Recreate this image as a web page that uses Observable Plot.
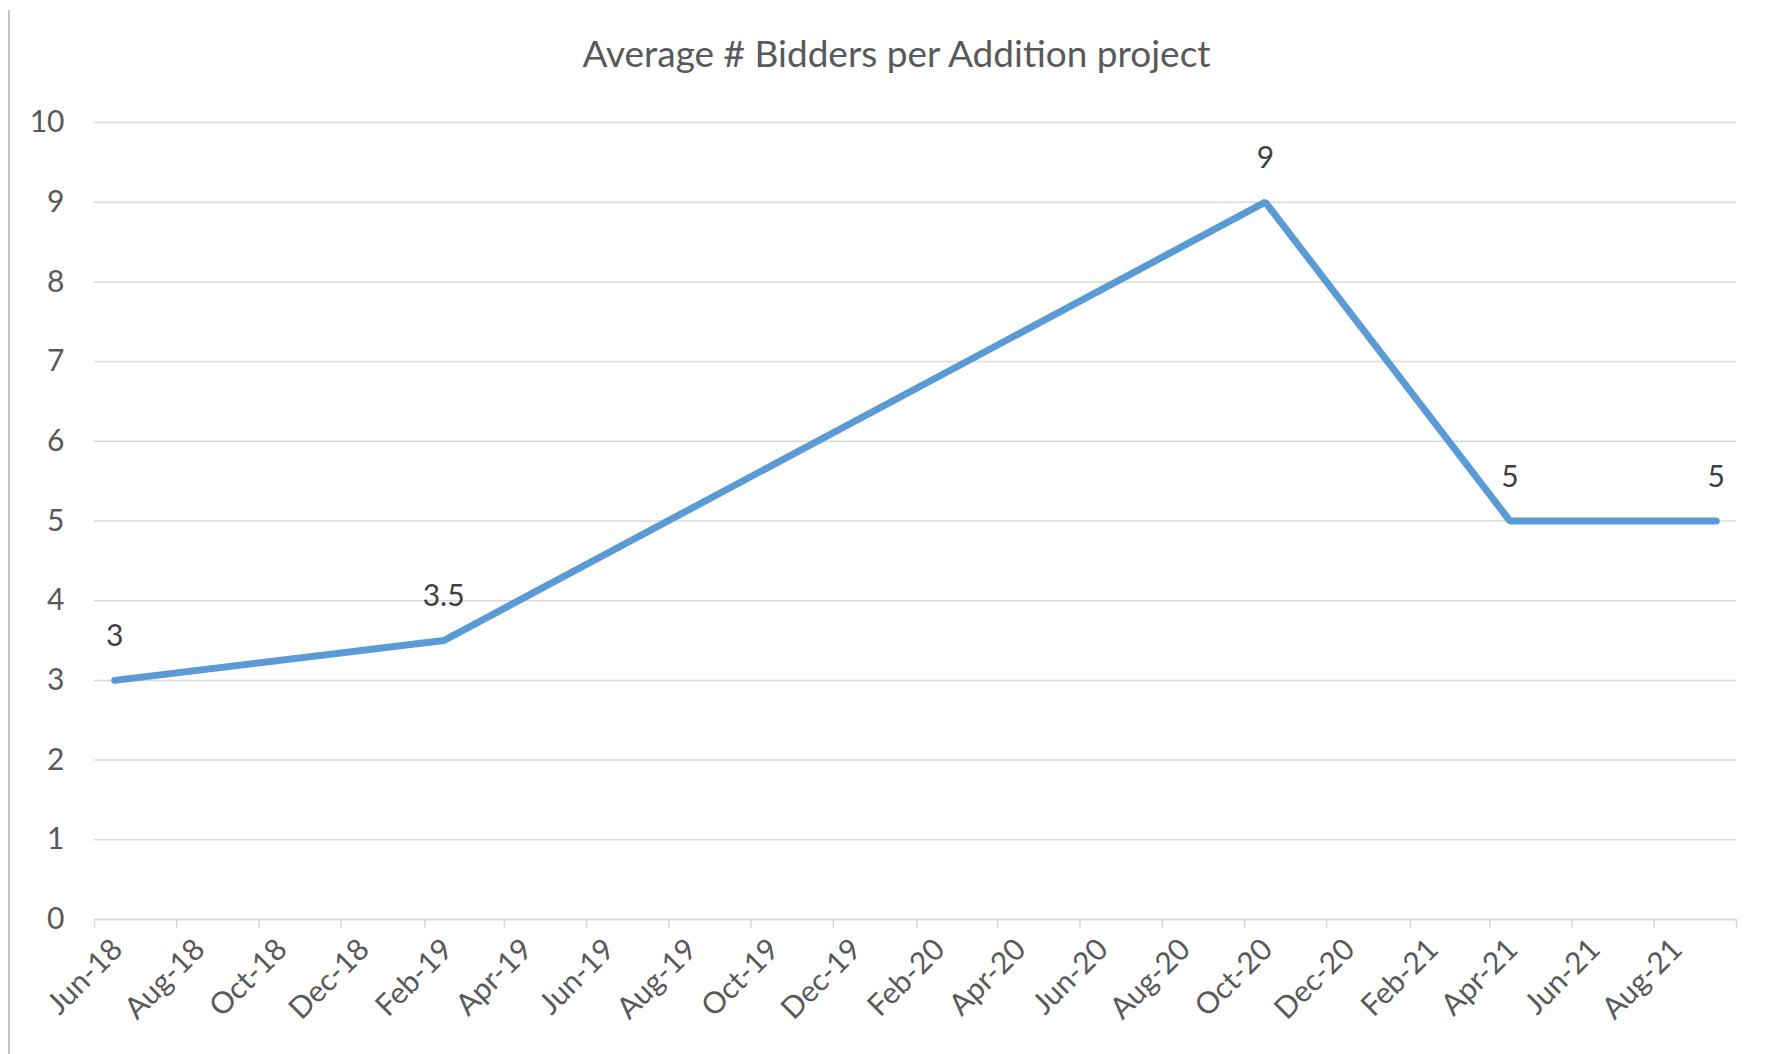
<!DOCTYPE html>
<html>
<head>
<meta charset="utf-8">
<script src="https://cdn.jsdelivr.net/npm/d3@7"></script>
<script src="https://cdn.jsdelivr.net/npm/@observablehq/plot@0.6"></script>
<style>
  html, body { margin: 0; padding: 0; background: #fff; }
  body { width: 1771px; height: 1054px; position: relative; overflow: hidden; font-family: Lato, "Open Sans", sans-serif; }
  #title { position: absolute; left: 0; top: 0; width: 1771px; height: 80px; text-align: center; box-sizing: border-box; padding-left: 22px;
           font-size: 37px; color: #595959; line-height: 1; padding-top: 34px; }
  #chart { position: absolute; left: 0; top: 80px; }
  #edge { position: absolute; left: 8px; top: 10px; width: 2px; height: 1044px; background: #c4c4c4; z-index: 5; }
</style>
</head>
<body>
<div id="title">Average # Bidders per Addition project</div>
<div id="chart"></div>
<div id="edge"></div>
<script>
// Data (months as YYYY-MM) and values
const months = ["2018-06", "2019-02", "2020-10", "2021-04", "2021-09"];
const values = [3, 3.5, 9, 5, 5];
const valueLabels = ["3", "3.5", "9", "5", "5"];
const yTicks = [0, 1, 2, 3, 4, 5, 6, 7, 8, 9, 10];
const xStart = "2018-06";
const xEnd = "2021-10";

const parse = d3.utcParse("%Y-%m");
const fmt = d3.utcFormat("%b-%y");
const start = parse(xStart), end = parse(xEnd);
// points sit at the middle of their month (Excel date axis, monthly base unit)
const mid = d => new Date((+d + +d3.utcMonth.offset(d, 1)) / 2);
const data = months.map((m, i) => ({date: mid(parse(m)), value: values[i], label: valueLabels[i]}));
const xTicks = d3.utcMonth.range(start, d3.utcMonth.offset(end, 1), 2);

const chart = Plot.plot({
  width: 1771,
  height: 974,
  marginLeft: 94,
  marginRight: 35,
  marginTop: 42,
  marginBottom: 135,
  style: {fontFamily: "Lato, 'Open Sans', sans-serif", background: "#fff", overflow: "visible"},
  x: {type: "utc", domain: [start, end]},
  y: {domain: [0, 10]},
  marks: [
    Plot.gridY(yTicks.filter(d => d > 0), {stroke: "#d9d9d9", strokeOpacity: 1, strokeWidth: 1.5}),
    Plot.ruleY([0], {stroke: "#d9d9d9", strokeWidth: 2}),
    Plot.axisY(yTicks, {tickSize: 0, tickPadding: 30, tickFormat: d => String(d), fill: "#595959", fontSize: 30, label: null}),
    Plot.axisX(xTicks, {tickSize: 9, stroke: "#d9d9d9", strokeWidth: 1.5, strokeOpacity: 1, text: null, label: null}),
    Plot.axisX(xTicks.filter(d => +d < +end), {
      tickSize: 0, tickPadding: 25, tickRotate: -45, tickFormat: fmt, dx: 23,
      fill: "#595959", fontSize: 30, label: null
    }),
    Plot.line(data, {x: "date", y: "value", stroke: "#5B9BD5", strokeWidth: 7, strokeLinecap: "round", strokeLinejoin: "miter"}),
    Plot.text(data, {x: "date", y: "value", text: "label", dy: -44, fill: "#404040", fontSize: 30})
  ]
});
document.getElementById("chart").appendChild(chart);
</script>
</body>
</html>
